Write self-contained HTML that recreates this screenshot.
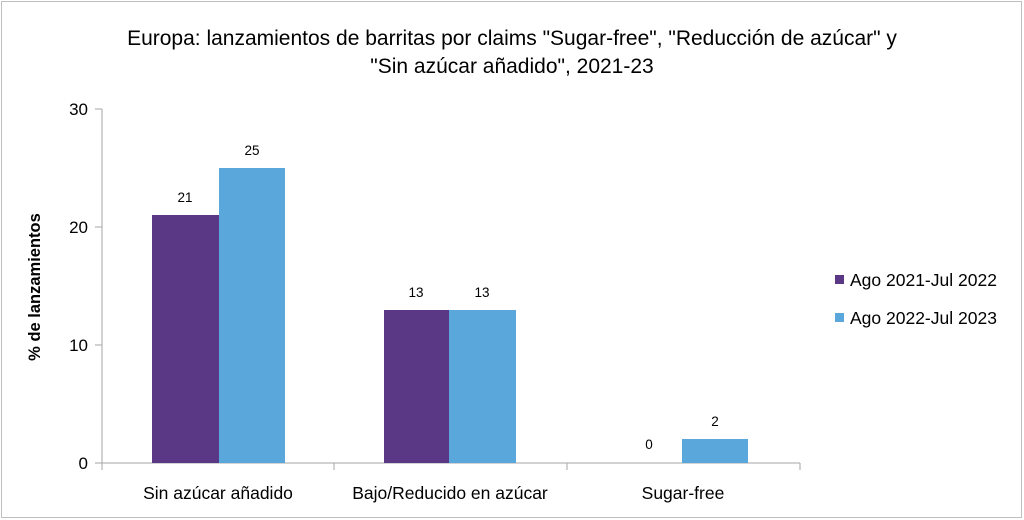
<!DOCTYPE html>
<html><head><meta charset="utf-8"><style>
body{margin:0;background:#fff}
svg{display:block;font-family:"Liberation Sans",sans-serif}
</style></head><body>
<svg width="1024" height="520" viewBox="0 0 1024 520">
<rect x="1.5" y="1.5" width="1020" height="516" fill="#fff" stroke="#bfbfbf"/>
<text x="512" y="45" font-size="21" text-anchor="middle" fill="#000">Europa: lanzamientos de barritas por claims "Sugar-free", "Reducción de azúcar" y</text>
<text x="512" y="73" font-size="21" text-anchor="middle" fill="#000">"Sin azúcar añadido", 2021-23</text>
<g stroke="#a6a6a6" stroke-width="1">
<line x1="102" y1="109" x2="102" y2="463"/>
<line x1="95" y1="109" x2="102" y2="109"/>
<line x1="95" y1="227" x2="102" y2="227"/>
<line x1="95" y1="345" x2="102" y2="345"/>
<line x1="95" y1="463" x2="800" y2="463"/>
<line x1="102" y1="463" x2="102" y2="470"/>
<line x1="334" y1="463" x2="334" y2="470"/>
<line x1="567" y1="463" x2="567" y2="470"/>
<line x1="800" y1="463" x2="800" y2="470"/>
</g>
<g font-size="17" text-anchor="end" fill="#000">
<text x="88" y="115">30</text><text x="88" y="233">20</text><text x="88" y="351">10</text><text x="88" y="469">0</text>
</g>
<text transform="translate(40,287) rotate(-90)" font-size="16.5" font-weight="bold" text-anchor="middle">% de lanzamientos</text>
<rect x="152" y="215" width="67" height="248" fill="#5b3886"/>
<rect x="219" y="168" width="66" height="295" fill="#5aa7dc"/>
<rect x="384" y="310" width="65" height="153" fill="#5b3886"/>
<rect x="449" y="310" width="67" height="153" fill="#5aa7dc"/>
<rect x="682" y="439" width="66" height="24" fill="#5aa7dc"/>
<g font-size="13.5" text-anchor="middle">
<text x="185" y="202">21</text><text x="252" y="155">25</text>
<text x="416" y="297">13</text><text x="482" y="297">13</text>
<text x="649" y="449">0</text><text x="715" y="426">2</text>
</g>
<g font-size="17.5" text-anchor="middle">
<text x="218" y="499">Sin azúcar añadido</text>
<text x="450" y="499">Bajo/Reducido en azúcar</text>
<text x="683" y="499">Sugar-free</text>
</g>
<rect x="835" y="275" width="9" height="9" fill="#5b3886"/>
<rect x="835" y="313" width="9" height="9" fill="#5aa7dc"/>
<g font-size="17.5">
<text x="850" y="286">Ago 2021-Jul 2022</text>
<text x="850" y="324">Ago 2022-Jul 2023</text>
</g>
</svg>
</body></html>
